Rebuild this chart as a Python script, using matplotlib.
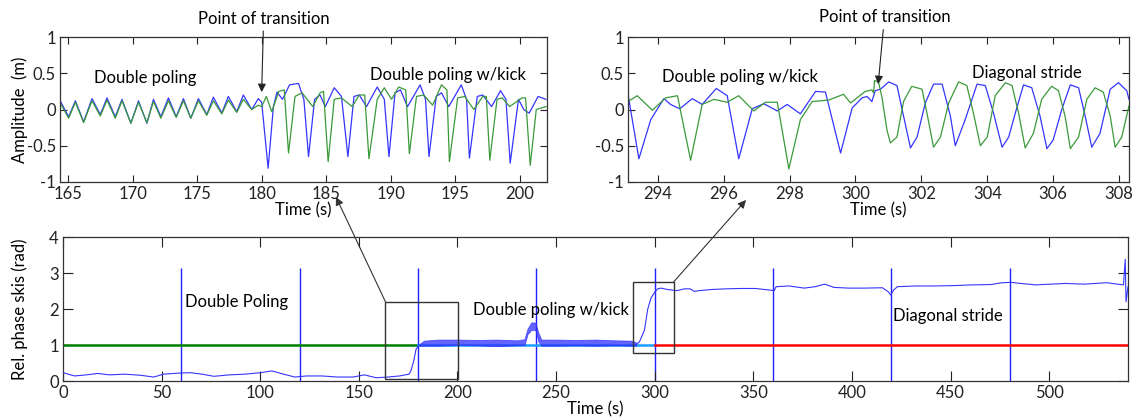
import matplotlib.pyplot as plt
from matplotlib.patches import Rectangle

# --- top-left panel: double poling -> double poling w/kick (ski amplitudes)
tl_blue_t = [164.36, 165.05, 165.57, 166.21, 166.86, 167.50, 168.02, 168.66, 169.18, 169.87,
             170.46, 171.11, 171.62, 172.19, 172.78, 173.38, 173.94, 174.51, 175.10, 175.75,
             176.26, 176.91, 177.42, 178.07, 178.58, 179.23, 179.74, 180.0,
             180.5, 180.91, 181.19, 181.61, 182.16, 182.85, 183.27, 183.63, 184.10, 184.52,
             184.93, 185.62, 186.18, 186.68, 187.15, 187.56, 188.12, 188.95, 189.50, 189.86,
             190.33, 190.75, 191.30, 192.27, 192.69, 192.96, 193.52, 193.93, 194.49, 195.46,
             195.87, 196.09, 196.70, 197.12, 197.81, 198.50, 198.92, 199.25, 199.89, 200.30,
             200.72, 201.41, 202.02]
tl_blue = [0.13, -0.10, 0.12, -0.17, 0.15, -0.07, 0.16, -0.10, 0.14, -0.19,
           0.12, -0.19, 0.14, -0.10, 0.16, -0.10, 0.15, -0.12, 0.15, -0.07,
           0.17, -0.05, 0.18, -0.03, 0.20, 0.0, 0.15, 0.10,
           -0.81, 0.04, 0.24, 0.14, 0.34, 0.36, 0.14, -0.65, 0.14, 0.20,
           0.04, 0.30, 0.18, -0.65, 0.18, 0.20, 0.04, 0.31, 0.14, -0.65,
           0.23, 0.27, 0.04, 0.34, 0.14, -0.65, 0.18, 0.23, 0.04, 0.34,
           0.14, -0.67, 0.18, 0.20, 0.04, 0.26, 0.14, -0.74, 0.14, 0.0,
           -0.05, 0.18, 0.14]

tl_green_t = [164.36, 165.05, 165.57, 166.21, 166.86, 167.50, 168.02, 168.66, 169.18, 169.87,
              170.46, 171.11, 171.62, 172.19, 172.78, 173.38, 173.94, 174.51, 175.10, 175.75,
              176.26, 176.91, 177.42, 178.07, 178.58, 179.23, 179.74, 180.0,
              180.36, 180.78, 181.33, 181.75, 182.08, 182.58, 183.13, 183.96, 184.52, 184.79,
              185.15, 185.62, 186.18, 187.01, 187.56, 187.98, 188.31, 188.95, 189.50, 190.06,
              190.61, 191.16, 191.44, 191.99, 192.55, 193.24, 193.93, 194.35, 194.54, 195.18,
              195.73, 196.43, 197.12, 197.40, 197.67, 198.23, 198.64, 199.20, 200.17, 200.44,
              200.80, 201.27, 202.02]
tl_green = [0.10, -0.12, 0.10, -0.18, 0.12, -0.09, 0.13, -0.12, 0.12, -0.19,
            0.10, -0.18, 0.11, -0.12, 0.12, -0.11, 0.12, -0.12, 0.12, -0.08,
            0.12, -0.06, 0.13, -0.04, 0.14, 0.0, 0.06, 0.04,
            0.18, -0.03, 0.25, 0.27, -0.60, 0.18, 0.23, 0.04, 0.23, 0.25,
            -0.72, 0.14, 0.16, 0.04, 0.20, 0.20, -0.68, 0.14, 0.30, 0.14,
            0.31, 0.27, -0.61, 0.18, 0.20, 0.06, 0.34, 0.27, -0.72, 0.16,
            0.18, 0.0, 0.18, 0.18, -0.70, 0.14, 0.16, 0.04, 0.16, 0.16,
            -0.77, 0.0, 0.04]

# --- top-right panel: double poling w/kick -> diagonal stride
tr_blue_t = [293.1, 293.43, 293.79, 294.19, 294.39, 294.67, 295.05, 295.35, 295.78, 296.11,
             296.46, 296.87, 297.22, 297.63, 297.93, 298.33, 298.79, 299.09, 299.55, 299.9,
             300.2, 300.35, 300.5, 300.6, 300.76, 301.01, 301.26, 301.46, 301.67, 301.87,
             302.12, 302.37, 302.63, 302.88, 303.03, 303.33, 303.69, 303.94, 304.19, 304.45,
             304.65, 304.85, 305.1, 305.35, 305.6, 305.81, 306.0, 306.26, 306.52, 306.77,
             306.97, 307.17, 307.42, 307.73, 307.98, 308.23, 308.3]
tr_blue = [0.21, -0.68, -0.14, 0.15, 0.07, 0.01, 0.15, 0.07, 0.29, 0.19,
           -0.68, 0.01, 0.08, -0.02, 0.07, -0.06, 0.25, 0.24, -0.60, 0.02,
           0.16, 0.18, 0.11, 0.26, 0.28, 0.38, 0.33, -0.09, -0.53, -0.38,
           0.09, 0.35, 0.35, -0.09, -0.50, -0.14, 0.35, 0.33, -0.05, -0.52,
           -0.38, -0.05, 0.34, 0.30, -0.09, -0.54, -0.42, 0.00, 0.34, 0.30,
           -0.09, -0.52, -0.33, 0.28, 0.37, 0.26, 0.14]

tr_green_t = [293.1, 293.38, 293.84, 294.24, 294.6, 295.0, 295.35, 295.71, 296.11, 296.46,
              296.92, 297.27, 297.63, 297.98, 298.33, 298.69, 299.19, 299.64, 299.85, 300.3,
              300.5, 300.55, 300.58, 300.7, 300.8, 300.96, 301.06, 301.26, 301.46, 301.71,
              302.02, 302.17, 302.37, 302.58, 302.83, 303.13, 303.38, 303.58, 303.79, 304.0,
              304.24, 304.55, 304.75, 304.95, 305.15, 305.4, 305.65, 305.95, 306.16, 306.36,
              306.52, 306.77, 307.02, 307.27, 307.52, 307.73, 307.88, 308.08, 308.3]
tr_green = [0.11, 0.19, -0.01, 0.16, 0.19, -0.70, 0.07, 0.14, 0.10, 0.19,
            -0.02, 0.10, 0.10, -0.82, -0.14, 0.11, 0.13, 0.21, 0.09, 0.25,
            0.27, 0.23, 0.40, 0.38, 0.18, -0.29, -0.46, -0.38, 0.11, 0.32,
            0.28, -0.05, -0.52, -0.38, 0.09, 0.38, 0.33, -0.05, -0.50, -0.38,
            0.19, 0.37, 0.33, -0.05, -0.53, -0.33, 0.14, 0.32, 0.26, -0.09,
            -0.54, -0.38, 0.14, 0.30, 0.24, -0.09, -0.52, -0.38, 0.05]

# --- bottom panel: relative phase between skis
ph_t = [0, 5.9, 11.8, 17.6, 23.5, 31.4, 39.2, 46, 51, 58.8, 64.7, 70.6, 76.5, 84.3, 92.2,
        100, 105.9, 111.8, 117.6, 123.5, 131.4, 139.2, 147, 152.9, 158.8, 164.7, 170.6,
        175.5, 176.5, 177.8, 179.0, 180.5]
ph = [0.23, 0.14, 0.17, 0.21, 0.17, 0.19, 0.16, 0.11, 0.19, 0.22, 0.23, 0.19, 0.13, 0.17, 0.19,
      0.23, 0.28, 0.19, 0.11, 0.14, 0.14, 0.11, 0.11, 0.17, 0.09, 0.11, 0.14,
      0.19, 0.30, 0.55, 0.88, 1.0]
ph2_t = [290.5, 292.3, 294.8, 296.5, 298.1, 299.8, 301.5, 303.2, 306.6, 308.2, 311.4, 315, 318,
         320, 322.7, 328.4, 336, 343.6, 351.1, 357.8, 360.6, 361.6, 368.2, 375.8, 381.4, 386.2,
         390.9, 398.5, 406, 415.5, 418.4, 419.7, 421.2, 423.1, 432.6, 442, 451.5, 461, 470.5,
         476.1, 480.9, 485.6, 493.2, 500.8, 508.3, 517.8, 529.2, 534.8, 537.7, 538.6, 539.0, 540]
ph2 = [1.0, 1.09, 1.41, 2.0, 2.3, 2.45, 2.56, 2.58, 2.54, 2.53, 2.51, 2.56, 2.56,
       2.49, 2.51, 2.54, 2.56, 2.57, 2.57, 2.53, 2.51, 2.62, 2.64, 2.58, 2.62, 2.69,
       2.6, 2.58, 2.58, 2.59, 2.48, 2.39, 2.53, 2.62, 2.64, 2.64, 2.65, 2.67, 2.68,
       2.73, 2.74, 2.71, 2.67, 2.69, 2.71, 2.69, 2.73, 2.69, 2.67, 3.38, 2.2, 2.62]
# envelope of the fast fluctuation during double poling w/kick
band_t = [180.5, 183, 190, 200, 210, 220, 230, 234, 235.5, 237.5, 239.5, 241, 242.5,
          250, 260, 270, 280, 288, 290.5]
band_lo = [0.98, 0.98, 0.98, 1.0, 0.99, 0.97, 0.99, 1.0, 1.3, 1.42, 1.42, 1.1, 0.98,
           0.98, 0.99, 0.98, 0.99, 0.98, 0.98]
band_hi = [1.02, 1.12, 1.15, 1.15, 1.14, 1.15, 1.13, 1.16, 1.45, 1.63, 1.62, 1.35, 1.15,
           1.15, 1.14, 1.15, 1.13, 1.12, 1.08]

cycle_marks = [60, 120, 180, 240, 300, 360, 420, 480]
mark_top = 3.14
ref_level = 1.0
ref_edges = [0, 180, 300, 540]
ref_colors = ['#008000', '#1a9cff', '#ff0000']

BLUE = '#3535ff'
GREEN = '#3a9a3a'

plt.rcParams['font.family'] = ['Lato', 'DejaVu Sans']
fig = plt.figure(figsize=(11.43, 4.18), dpi=100)


def style(ax, ticklen):
    ax.tick_params(direction='in', top=True, right=True, length=ticklen, width=0.8,
                   labelsize=12, pad=3, colors='#222222')
    for s in ax.spines.values():
        s.set_linewidth(0.9)
        s.set_color('#333333')


amp_ticks = [-1, -0.5, 0, 0.5, 1]
amp_labels = ['-1', '-0.5', '0', '0.5', '1']

ax1 = fig.add_axes([60 / 1143, 1 - 182 / 418, 487 / 1143, 145 / 418])
ax1.plot(tl_blue_t, tl_blue, color=BLUE, lw=0.9, solid_joinstyle='round')
ax1.plot(tl_green_t, tl_green, color=GREEN, lw=0.9, solid_joinstyle='round')
ax1.set_xlim(164.38, 202.1)
ax1.set_ylim(-1, 1)
ax1.set_xticks(range(165, 201, 5))
ax1.set_yticks(amp_ticks)
ax1.set_yticklabels(amp_labels)
ax1.set_xlabel('Time (s)', fontsize=12, labelpad=0)
ax1.set_ylabel('Amplitude  (m)', fontsize=12)
ax1.yaxis.set_label_coords(-0.066, 0.5)
style(ax1, 5)
ax1.text(171, 0.43, 'Double poling', fontsize=12, ha='center', va='center')
ax1.text(194.4, 0.47, 'Double poling w/kick', fontsize=12, ha='center', va='center')
ax1.annotate('Point of transition', xy=(180, 0.24), xytext=(180.15, 1.25),
             fontsize=12, ha='center', va='center', annotation_clip=False,
             arrowprops=dict(arrowstyle='-|>', color='#222222', lw=0.8,
                             mutation_scale=12, shrinkA=1, shrinkB=0))

ax2 = fig.add_axes([628 / 1143, 1 - 182 / 418, 501 / 1143, 145 / 418])
ax2.plot(tr_blue_t, tr_blue, color=BLUE, lw=0.9, solid_joinstyle='round')
ax2.plot(tr_green_t, tr_green, color=GREEN, lw=0.9, solid_joinstyle='round')
ax2.set_xlim(293.1, 308.3)
ax2.set_ylim(-1, 1)
ax2.set_xticks(range(294, 309, 2))
ax2.set_yticks(amp_ticks)
ax2.set_yticklabels(amp_labels)
ax2.set_xlabel('Time (s)', fontsize=12, labelpad=0)
style(ax2, 5)
ax2.text(296.5, 0.45, 'Double poling w/kick', fontsize=12, ha='center', va='center')
ax2.text(305.2, 0.5, 'Diagonal stride', fontsize=12, ha='center', va='center')
ax2.annotate('Point of transition', xy=(300.69, 0.35), xytext=(300.88, 1.27),
             fontsize=12, ha='center', va='center', annotation_clip=False,
             arrowprops=dict(arrowstyle='-|>', color='#222222', lw=0.8,
                             mutation_scale=12, shrinkA=1, shrinkB=0))

ax3 = fig.add_axes([63 / 1143, 1 - 381 / 418, 1065 / 1143, 144 / 418])
for i, c in enumerate(ref_colors):
    ax3.plot([ref_edges[i], ref_edges[i + 1]], [ref_level, ref_level], color=c, lw=1.8, zorder=2)
ax3.vlines(cycle_marks, 0, mark_top, colors='#2020ff', lw=1.0, zorder=1)
ax3.fill_between(band_t, band_lo, band_hi, color='#3030ff', alpha=0.75, lw=0.6, zorder=3)
ax3.plot(ph_t, ph, color=BLUE, lw=0.8, zorder=3)
ax3.plot(ph2_t, ph2, color=BLUE, lw=0.8, zorder=3)
ax3.add_patch(Rectangle((163.5, 0.05), 37, 2.15, fill=False, ec='#333333', lw=1.0, zorder=4))
ax3.add_patch(Rectangle((289, 0.78), 20.6, 1.97, fill=False, ec='#333333', lw=1.0, zorder=4))
ax3.set_xlim(0, 540)
ax3.set_ylim(0, 4)
ax3.set_xticks(range(0, 501, 50))
ax3.set_yticks(range(0, 5))
ax3.set_xlabel('Time (s)', fontsize=12, labelpad=0)
ax3.set_ylabel('Rel. phase skis (rad)', fontsize=12)
ax3.yaxis.set_label_coords(-0.033, 0.5)
style(ax3, 7)
ax3.text(62, 2.2, 'Double Poling', fontsize=12, ha='left', va='center')
ax3.text(208, 1.97, 'Double poling w/kick', fontsize=12, ha='left', va='center')
ax3.text(421, 1.8, 'Diagonal stride', fontsize=12, ha='left', va='center')

# zoom arrows from the boxes to the top panels
ax3.annotate('', xy=(336 / 1143, 1 - 197 / 418), xycoords='figure fraction',
             xytext=(163.5, 2.2), textcoords='data', annotation_clip=False,
             arrowprops=dict(arrowstyle='-|>', color='#333333', lw=0.8,
                             mutation_scale=12, shrinkA=0, shrinkB=0))
ax3.annotate('', xy=(746 / 1143, 1 - 200 / 418), xycoords='figure fraction',
             xytext=(309.6, 2.75), textcoords='data', annotation_clip=False,
             arrowprops=dict(arrowstyle='-|>', color='#333333', lw=0.8,
                             mutation_scale=12, shrinkA=0, shrinkB=0))

fig.savefig('out.png', dpi=100)
